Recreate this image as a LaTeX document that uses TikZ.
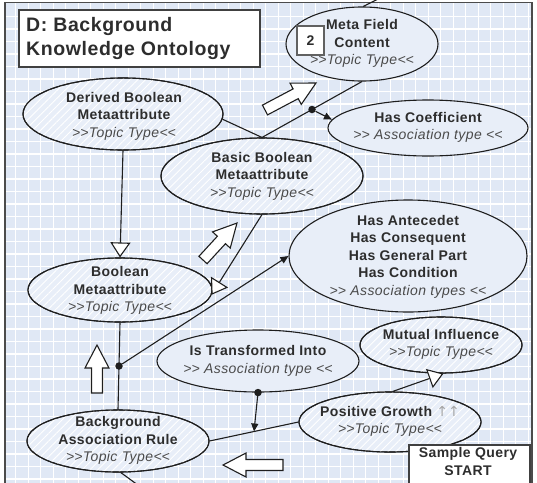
\documentclass[tikz,border=0pt]{standalone}
\usepackage{fontspec}
\newfontfamily\lab{Liberation Sans}[LetterSpace=3.0]
\newfontfamily\arrfont{DejaVu Sans}
\usetikzlibrary{arrows.meta,shapes.geometric,patterns.meta,calc}
\definecolor{bgc}{RGB}{224,232,245}
\definecolor{ellc}{RGB}{232,238,248}
\definecolor{inkc}{RGB}{30,30,30}
\definecolor{txtc}{RGB}{45,45,45}
\definecolor{itc}{RGB}{75,75,75}
\newcommand\stereo[1]{{\mdseries\itshape\color{itc}#1}}
\newcommand\mygt{>\kern0pt>}
\newcommand\mylt{<\kern0pt<}
\tikzset{
  topic/.style={ellipse, draw=inkc, line width=1.1pt, fill=ellc, inner sep=0pt,
    postaction={pattern={Lines[angle=45,distance=5.5pt,line width=0.9pt]}, pattern color=white},
    postaction={draw=inkc, line width=1.1pt}},
  assoc/.style={ellipse, draw=inkc, line width=1.1pt, fill=ellc, inner sep=0pt},
  txt/.style={align=center, text=txtc, inner sep=0pt, font=\lab\fontsize{14}{17.5}\selectfont\bfseries},
  conn/.style={draw=inkc, line width=1.1pt},
  fillarr/.style={conn, -{Triangle[length=8pt,width=7pt]}},
  genarr/.style={conn, -{Triangle[length=15pt,width=20pt,fill=white]}},
  dot/.style={circle, fill=inkc, inner sep=0pt, minimum size=7.5pt},
  blockline/.style={draw=inkc, line width=1.1pt, fill=white, line join=miter},
  gridl/.style={draw=white, line width=1.2pt},
  boxw/.style={draw=inkc!85, line width=2pt, fill=white, inner sep=0pt},
  pics/blockarr/.style={code={
    \draw[blockline] (0,-5.5) -- ({#1-23},-5.5) -- ({#1-23},-12) -- (#1,0) -- ({#1-23},12) -- ({#1-23},5.5) -- (0,5.5) -- cycle;}}
}
\begin{document}
\begin{tikzpicture}[x=1pt,y=-1pt]
\useasboundingbox (0,0) rectangle (537,482);
\clip (0,0) rectangle (537,482);
\fill[white] (0,0) rectangle (537,482);
\fill[bgc] (5,2.5) rectangle (532,490);
\foreach \k in {1,...,42} \draw[gridl] ({3.2+12.5*\k},2.5) -- ({3.2+12.5*\k},490);
\foreach \k in {1,...,38} \draw[gridl] (5,{4+12.5*\k}) -- (532,{4+12.5*\k});
\draw[inkc!80, line width=1.5pt] (5,495) -- (5,2.5) -- (532,2.5) -- (532,495);

% title
\node[boxw, anchor=north west, minimum width=241pt, minimum height=57pt] (titlebox) at (18,9) {};
\node[anchor=west, align=left, text=txtc, inner sep=0pt, font=\lab\fontsize{19.5}{24}\selectfont\bfseries] (titletext) at (26,38) {D: Background\\Knowledge Ontology};

% ellipses
\node[topic, minimum width=200pt, minimum height=72pt] (derived) at (123,114) {};
\node[assoc, minimum width=152pt, minimum height=74pt] (meta) at (362,44) {};
\node[assoc, minimum width=200pt, minimum height=56pt] (hascoef) at (428,128) {};
\node[topic, minimum width=202pt, minimum height=76pt] (basic) at (262,176) {};
\node[topic, minimum width=184pt, minimum height=64pt] (boolmeta) at (120,290) {};
\node[assoc, minimum width=238pt, minimum height=112pt] (hasante) at (408,256) {};
\node[assoc, minimum width=202pt, minimum height=62pt] (istrans) at (258,361) {};
\node[topic, minimum width=162pt, minimum height=56pt] (mutual) at (441,345) {};
\node[topic, minimum width=182pt, minimum height=60pt] (posgrowth) at (390,422) {};
\node[topic, minimum width=182pt, minimum height=62pt] (bgrule) at (118,441) {};

% texts
\node[txt] (derivedtxt) at (124,116) {Derived Boolean\\Metaattribute\\\stereo{\mygt Topic Type\mylt}};
\node[txt] (metatxt) at (362,43.5) {Meta Field\\Content\\\stereo{\mygt Topic Type\mylt}};
\node[txt] (hascoeftxt) at (428,127.5) {Has Coefficient\\\stereo{\mygt{} Association type \mylt}};
\node[txt] (basictxt) at (262,176) {Basic Boolean\\Metaattribute\\\stereo{\mygt Topic Type\mylt}};
\node[txt] (boolmetatxt) at (120,290.5) {Boolean\\Metaattribute\\\stereo{\mygt Topic Type\mylt}};
\node[txt] (hasantetxt) at (408,256.5) {Has Antecedet\\Has Consequent\\Has General Part\\Has Condition\\\stereo{\mygt{} Association types \mylt}};
\node[txt] (istranstxt) at (258,361) {Is Transformed Into\\\stereo{\mygt{} Association type \mylt}};
\node[txt] (mutualtxt) at (441,344.5) {Mutual Influence\\\stereo{\mygt Topic Type\mylt}};
\node[txt] (posgrowthtxt) at (390,421.5) {Positive Growth {\arrfont\mdseries\color{gray!70}↑↑}\\\stereo{\mygt Topic Type\mylt}};
\node[txt] (bgruletxt) at (118,440.5) {Background\\Association Rule\\\stereo{\mygt Topic Type\mylt}};

% number box
\node[draw=inkc!70, line width=1.3pt, fill=white, minimum width=27pt, minimum height=29pt, inner sep=0pt, text=txtc, font=\lab\fontsize{14}{17}\selectfont\bfseries] (two) at (310.5,40.5) {2};

% start box
\node[boxw, anchor=north west, minimum width=121pt, minimum height=60pt] (startbox) at (408,444) {};
\node[txt] (starttxt) at (468,461.5) {Sample Query\\START};

% connectors
\draw[genarr] (derived.south) -- (boolmeta.north);
\draw[conn] (derived.-3) -- (basic.north) -- (meta.south);
\node[dot] (d1) at ($(basic.north)!0.5!(meta.south)$) {};
\draw[fillarr] (d1) -- (hascoef.175);
\draw[genarr] (basic.south) -- (boolmeta.-3);
\draw[conn] (boolmeta.south) -- (bgrule.north);
\node[dot] (d2) at ($(boolmeta.south)!0.5!(bgrule.north)$) {};
\draw[fillarr] (d2) -- (hasante.west);
\draw[conn] (bgrule.east) -- (posgrowth.west);
\coordinate (m1) at ($(bgrule.east)!0.5!(posgrowth.west)$);
\node[dot] (d3) at (istrans.south) {};
\draw[fillarr] (d3.center) -- (m1);
\draw[genarr] (posgrowth.85) -- (mutual.-85);
\coordinate (exit1) at (142,488);
\draw[conn] (bgrule.-85) -- (exit1);
\coordinate (exit2) at (382,-3);
\draw[conn] (meta.88) -- (exit2);

% block arrows
\pic[rotate=27.9] at (265,110) {blockarr=57.7};
\pic[rotate=47.4] at (203,260) {blockarr=50.2};
\pic[rotate=90] at (97,393) {blockarr=48};
\pic[rotate=180] at (283,465) {blockarr=60};
\end{tikzpicture}
\end{document}
